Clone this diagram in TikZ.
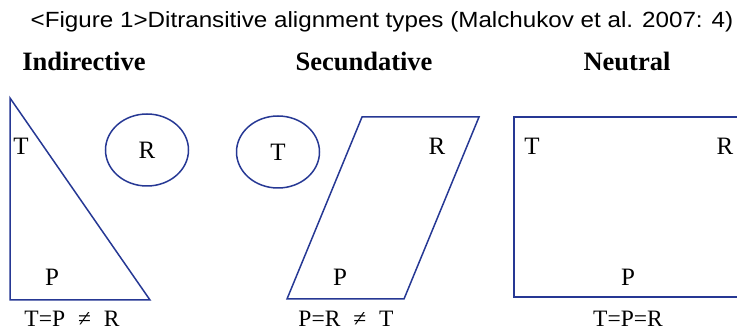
\documentclass[tikz,border=0pt]{standalone}
\usepackage{fontspec}
\setmainfont{Liberation Serif}
\newfontfamily\capfont{Liberation Sans}
\usetikzlibrary{shapes.geometric}
\definecolor{lineblue}{RGB}{38,56,148}
\newcommand{\neqgap}{\hspace{0.55em}}
\begin{document}
\begin{tikzpicture}[x=1pt,y=-1pt,
  shapeline/.style={draw=lineblue,line width=1.5pt,line join=miter},
  role/.style={font=\fontsize{25}{28}\selectfont,inner sep=0pt,anchor=center},
  formula/.style={font=\fontsize{23.5}{28}\selectfont,inner sep=0pt,anchor=base},
  title/.style={font=\fontsize{26.5}{30}\selectfont\bfseries,inner sep=0pt,anchor=center},
  blob/.style={ellipse,draw=lineblue,line width=1.5pt,minimum width=83pt,minimum height=72pt,inner sep=0pt,font=\fontsize{25}{28}\selectfont}]
\useasboundingbox (0,0) rectangle (737,331);
% caption
\node[font=\capfont\fontsize{22}{24}\selectfont,inner sep=0pt,anchor=center] (cap) at (382,22) {\scalebox{1.1}[1]{<Figure 1>Ditransitive alignment types (Malchukov et al. 2007: 4)}};
% titles
\node[title] (t1) at (84,61) {Indirective};
\node[title] (t2) at (364,61) {Secundative};
\node[title] (t3) at (627,61) {Neutral};
% Indirective
\draw[shapeline] (10,98) -- (10,300) -- (150,300) -- cycle;
\node[role] (it) at (21,146) {T};
\node[role] (ip) at (52,277) {P};
\node[blob] (ir) at (147,150) {R};
\node[formula] (if) at (72,326.5) {T=P\neqgap≠\neqgap R};
% Secundative
\draw[shapeline] (362,117) -- (479,117) -- (404,299) -- (287,299) -- cycle;
\node[blob] (st) at (278,152) {T};
\node[role] (sr) at (437,146) {R};
\node[role] (sp) at (340,277) {P};
\node[formula] (sf) at (346,326.5) {P=R\neqgap≠\neqgap T};
% Neutral
\draw[shapeline] (740,117) -- (514,117) -- (514,297) -- (740,297);
\node[role] (nt) at (532,146) {T};
\node[role] (nr) at (725,146) {R};
\node[role] (np) at (628,277) {P};
\node[formula] (nf) at (628,326.5) {T=P=R};
\end{tikzpicture}
\end{document}
